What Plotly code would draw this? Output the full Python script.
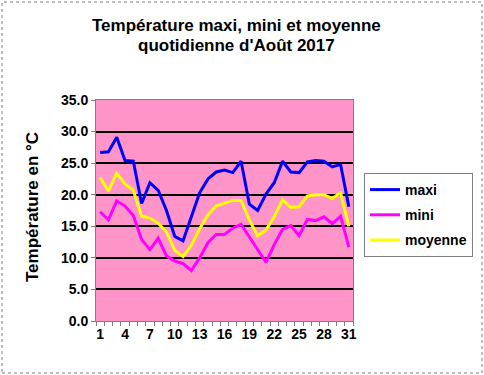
import plotly.graph_objects as go

days = list(range(1, 32))
maxi = [26.7, 26.8, 29.1, 25.4, 25.3, 18.6, 21.9, 20.7, 17.5, 13.4, 12.7, 16.5, 20.3, 22.5, 23.6,
        23.9, 23.5, 25.3, 18.5, 17.5, 20.1, 21.9, 25.3, 23.6, 23.5, 25.2, 25.4, 25.3, 24.4, 24.8, 18.1]
mini = [17.3, 16.0, 19.0, 18.2, 16.7, 12.9, 11.3, 13.1, 10.3, 9.5, 9.1, 8.0, 10.0, 12.4, 13.7,
        13.7, 14.7, 15.3, 13.3, 11.2, 9.3, 12.1, 14.5, 15.1, 13.5, 16.1, 15.9, 16.5, 15.4, 16.6, 11.7]
moyenne = [22.7, 20.6, 23.4, 21.7, 20.7, 16.6, 16.3, 15.5, 14.1, 11.2, 10.2, 12.0, 14.6, 16.8, 18.2,
           18.6, 19.1, 19.1, 16.0, 13.5, 14.4, 16.5, 19.2, 18.0, 18.1, 19.8, 20.0, 20.0, 19.4, 20.3, 15.0]
x_tick_vals = [1, 4, 7, 10, 13, 16, 19, 22, 25, 28, 31]
x_tick_text = ["1", "4", "7", "10", "13", "16", "19", "22", "25", "28", "31"]
y_tick_vals = [0, 5, 10, 15, 20, 25, 30, 35]
y_tick_text = ["0.0", "5.0", "10.0", "15.0", "20.0", "25.0", "30.0", "35.0"]
title_lines = ["Température maxi, mini et moyenne", "quotidienne d'Août 2017"]
y_title = "Température en °C"

FONT = "Liberation Sans, Arial, sans-serif"
BOLD = dict(family=FONT, size=14, weight="bold", color="black")

fig = go.Figure()
for name, vals, col in [("maxi", maxi, "#0000FF"), ("mini", mini, "#FF00FF"), ("moyenne", moyenne, "#FFFF00")]:
    fig.add_trace(go.Scatter(x=days, y=vals, mode="lines", name=name, legendgroup=name,
                             line=dict(color=col, width=3)))

L, R, T, B = 96, 353, 100, 321
W, H = 484, 375
pw, ph = R - L, B - T
def px(xp): return (xp - L) / pw
def py(yp): return (B - yp) / ph

fig.update_layout(
    width=W, height=H,
    margin=dict(l=L, r=W - R, t=T, b=H - B, autoexpand=False),
    paper_bgcolor="white", plot_bgcolor="#FF94C9",
    font=dict(family=FONT, color="black", size=14),
    showlegend=True,
    legend=dict(x=px(364), xanchor="left", y=py(173), yanchor="top",
                bgcolor="white", bordercolor="#808080", borderwidth=1,
                font=dict(size=14, family=FONT, weight="bold"), traceorder="grouped", tracegroupgap=4,
                itemwidth=30),
    xaxis=dict(range=[0.5, 31.5], tickmode="array", tickvals=x_tick_vals, ticktext=x_tick_text,
               ticks="", showgrid=False, zeroline=False, showline=True, linecolor="#808080",
               linewidth=1, mirror=True, tickfont=BOLD,
               minor=dict(tickmode="linear", tick0=0.5, dtick=1, ticks="outside", ticklen=4,
                          tickcolor="#808080", showgrid=False)),
    yaxis=dict(range=[0, 35], tickmode="array", tickvals=y_tick_vals, ticktext=y_tick_text,
               ticks="outside", ticklen=4, tickcolor="#808080", showgrid=True, gridcolor="black",
               gridwidth=2, zeroline=False, showline=True, linecolor="#808080", linewidth=1,
               mirror=True, tickfont=BOLD),
    shapes=[dict(type="rect", xref="paper", yref="paper", x0=px(2), x1=px(482), y0=py(373), y1=py(2),
                 line=dict(color="#808080", width=1, dash="dot"), layer="below")],
    annotations=[
        dict(text=y_title, textangle=-90, xref="paper", yref="paper",
             x=px(32), y=py(207), showarrow=False, xanchor="center", yanchor="middle",
             font=dict(size=17, family=FONT, weight="bold")),
        dict(text=title_lines[0], xref="paper", yref="paper", x=px(236), y=py(25),
             showarrow=False, xanchor="center", yanchor="middle",
             font=dict(size=17, family=FONT, weight="bold")),
        dict(text=title_lines[1], xref="paper", yref="paper", x=px(236), y=py(46),
             showarrow=False, xanchor="center", yanchor="middle",
             font=dict(size=17, family=FONT, weight="bold")),
    ],
)
fig.write_html("out.html", config={"displayModeBar": False},
               post_script="document.body.style.margin='0px';document.body.style.overflow='hidden';")
